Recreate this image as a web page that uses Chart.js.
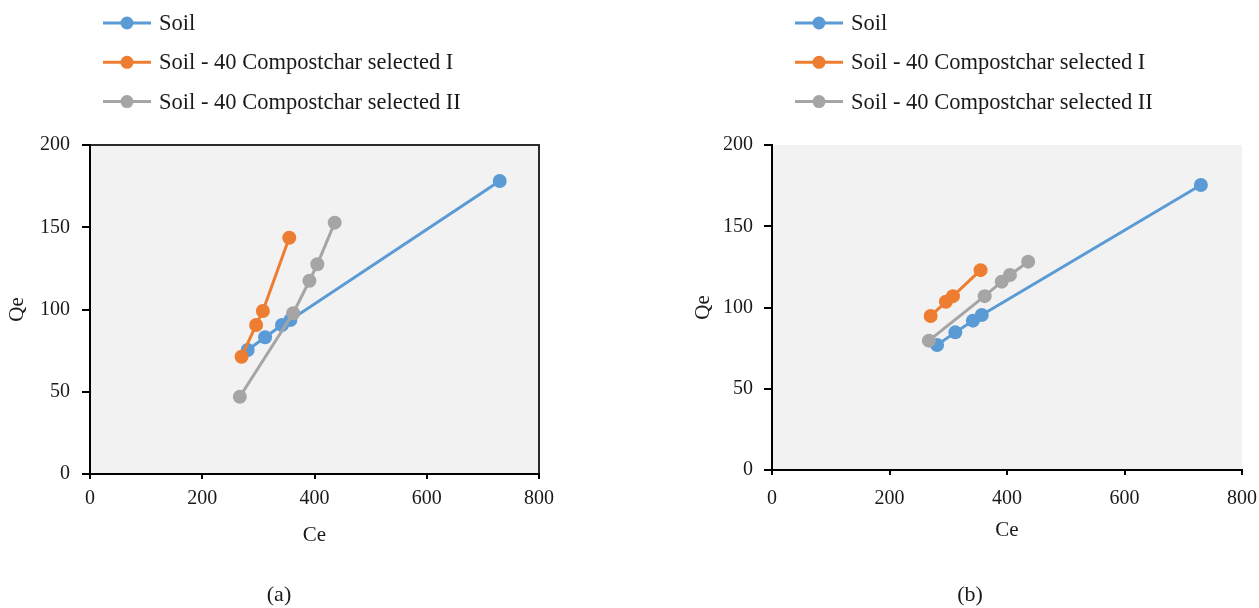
<!DOCTYPE html>
<html>
<head>
<meta charset="utf-8">
<script src="https://cdn.jsdelivr.net/npm/chart.js@4.4.1/dist/chart.umd.min.js"></script>
<style>
  html, body { margin: 0; padding: 0; background: #fff; overflow: hidden; }
  #wrap { position: relative; width: 1259px; height: 608px; overflow: hidden; }
  canvas { position: absolute; top: 0; }
  #chartA { left: 0; }
  #chartB { left: 620px; }
</style>
</head>
<body>
<div id="wrap">
  <canvas id="chartA" width="620" height="608"></canvas>
  <canvas id="chartB" width="670" height="608"></canvas>
</div>
<script>
// Series names and colours
const seriesNames = ['Soil', 'Soil - 40 Compostchar selected I', 'Soil - 40 Compostchar selected II'];
const seriesColors = ['#5B9BD5', '#ED7D31', '#A5A5A5'];

// Equilibrium concentration (Ce) per series
const ceSoil = [281, 312, 342, 357, 730];
const ceSelI = [270, 296, 308, 355];
const ceSelII = [267, 362, 391, 405, 436];

// Adsorbed amount (Qe), panel (a)
const qeSoilA = [75.4, 83.1, 90.6, 93.6, 178.1];
const qeSelIA = [71.3, 90.6, 99.1, 143.6];
const qeSelIIA = [47, 97.7, 117.5, 127.5, 152.8];

// Adsorbed amount (Qe), panel (b)
const qeSoilB = [76.9, 84.7, 91.9, 95.4, 175.4];
const qeSelIB = [94.8, 103.5, 107, 123];
const qeSelIIB = [79.6, 107, 115.9, 120, 128.2];

// Axis ticks
const xTicks = [0, 200, 400, 600, 800];
const yTicks = [0, 50, 100, 150, 200];

const SERIF = '"Liberation Serif", "Times New Roman", serif';
const TEXT = '#1a1a1a';

function pts(xs, ys) { return xs.map((x, i) => ({ x: x, y: ys[i] })); }

function makePanel(id, qeSets, L) {
  const ceSets = [ceSoil, ceSelI, ceSelII];
  const orders = [3, 2, 1];
  const datasets = seriesNames.map((name, i) => ({
    label: name,
    data: pts(ceSets[i], qeSets[i]),
    showLine: true,
    borderColor: seriesColors[i],
    backgroundColor: seriesColors[i],
    borderWidth: 3,
    pointRadius: 7,
    pointHoverRadius: 7,
    pointBorderWidth: 0,
    pointBackgroundColor: seriesColors[i],
    order: orders[i]
  }));

  const decor = {
    id: 'decor',
    beforeDraw(chart) {
      const { ctx, chartArea: a } = chart;
      ctx.save();
      ctx.fillStyle = '#F2F2F2';
      ctx.fillRect(a.left, a.top, a.right - a.left, a.bottom - a.top);
      if (L.box) {
        ctx.strokeStyle = '#2b2b2b';
        ctx.lineWidth = 2;
        ctx.beginPath();
        ctx.moveTo(a.left, a.top);
        ctx.lineTo(a.right, a.top);
        ctx.lineTo(a.right, a.bottom);
        ctx.stroke();
      }
      ctx.restore();
    },
    afterDraw(chart) {
      const ctx = chart.ctx;
      ctx.save();
      // legend: line sample with marker, then the name
      seriesNames.forEach((name, i) => {
        const y = 23 + i * 39.3;
        ctx.strokeStyle = seriesColors[i];
        ctx.lineWidth = 3;
        ctx.beginPath();
        ctx.moveTo(L.legendX, y);
        ctx.lineTo(L.legendX + 48, y);
        ctx.stroke();
        ctx.fillStyle = seriesColors[i];
        ctx.beginPath();
        ctx.arc(L.legendX + 24, y, 6.5, 0, Math.PI * 2);
        ctx.fill();
        ctx.fillStyle = TEXT;
        ctx.font = '22.5px ' + SERIF;
        ctx.textAlign = 'left';
        ctx.textBaseline = 'middle';
        ctx.fillText(name, L.legendX + 56, y + 1);
      });
      // panel caption
      ctx.font = '22px ' + SERIF;
      ctx.textAlign = 'center';
      ctx.fillStyle = TEXT;
      ctx.fillText(L.caption, L.captionX, 595);
      ctx.restore();
    }
  };

  return new Chart(document.getElementById(id), {
    type: 'scatter',
    data: { datasets: datasets },
    plugins: [decor],
    options: {
      responsive: false,
      animation: false,
      devicePixelRatio: 1,
      layout: { padding: L.padding },
      plugins: { legend: { display: false }, tooltip: { enabled: false } },
      scales: {
        x: {
          type: 'linear',
          min: 0, max: 800,
          afterBuildTicks: s => { s.ticks = xTicks.map(v => ({ value: v })); },
          afterFit: s => { s.height = L.xHeight; },
          border: { display: true, color: '#000', width: 2 },
          grid: { drawOnChartArea: false, drawTicks: true, tickLength: 5, color: '#000', lineWidth: 2 },
          ticks: { color: TEXT, font: { family: SERIF, size: 20 }, padding: L.xTickPad, maxRotation: 0 },
          title: { display: true, text: 'Ce', color: TEXT, font: { family: SERIF, size: 21 }, padding: { top: 0, bottom: L.xTitlePad } }
        },
        y: {
          type: 'linear',
          min: 0, max: 200,
          afterBuildTicks: s => { s.ticks = yTicks.map(v => ({ value: v })); },
          afterFit: s => { s.width = L.yWidth; },
          border: { display: true, color: '#000', width: 2 },
          grid: { drawOnChartArea: false, drawTicks: true, tickLength: 8, color: '#000', lineWidth: 2 },
          ticks: { color: TEXT, font: { family: SERIF, size: 20 }, padding: L.yTickPad },
          title: { display: true, text: 'Qe', color: TEXT, font: { family: SERIF, size: 21 }, padding: { top: L.yTitlePad, bottom: 0 } }
        }
      }
    }
  });
}

makePanel('chartA', [qeSoilA, qeSelIA, qeSelIIA], {
  padding: { left: 0, top: 145, right: 81, bottom: 0 },
  yWidth: 90, xHeight: 134,
  xTickPad: 8, yTickPad: 12,
  xTitlePad: 60, yTitlePad: 5,
  legendX: 103, caption: '(a)', captionX: 279, box: true
});

makePanel('chartB', [qeSoilB, qeSelIB, qeSelIIB], {
  padding: { left: 62, top: 145, right: 48, bottom: 0 },
  yWidth: 90, xHeight: 138,
  xTickPad: 12, yTickPad: 11,
  xTitlePad: 65, yTitlePad: 9,
  legendX: 175, caption: '(b)', captionX: 350, box: false
});
</script>
</body>
</html>
